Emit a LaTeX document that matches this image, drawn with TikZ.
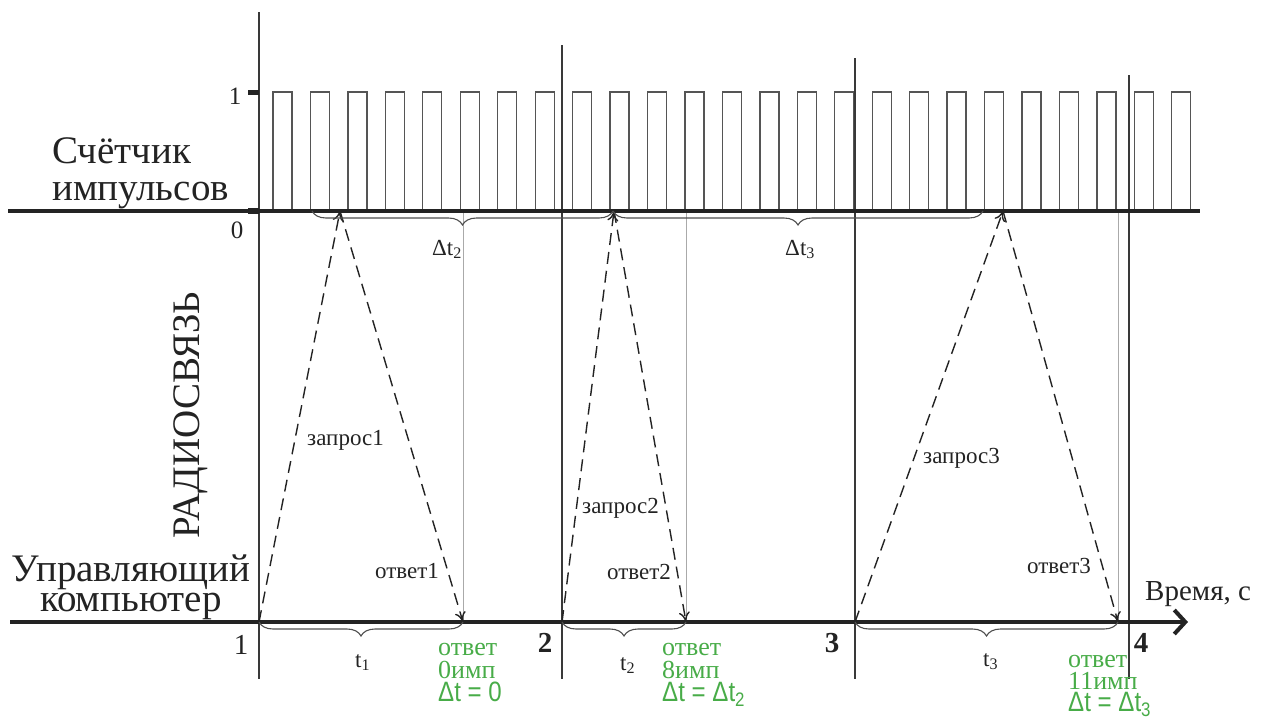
\documentclass[tikz,border=0pt]{standalone}
\usepackage{fontspec}
\setmainfont{Liberation Serif}
\newfontfamily\sansf{Liberation Sans}
\usetikzlibrary{arrows.meta,decorations.pathreplacing}
\definecolor{grn}{RGB}{72,172,72}
\definecolor{pulsegray}{RGB}{85,85,85}
\definecolor{lightg}{RGB}{170,170,170}
\definecolor{ink}{RGB}{35,35,35}
\newcommand{\nrw}[1]{\scalebox{0.86}[1]{#1}}
\newcommand{\dtl}[1]{{\sansf\fontsize{28}{28}\selectfont\nrw{#1}}}
% two lines, left aligned, fixed baseline gap
\newcommand{\twol}[3]{\vbox{\offinterlineskip\halign{##\hfil\cr\smash{#2}\cr\noalign{\kern#1}\smash{#3}\cr}}}
% two lines, centred
\newcommand{\twoc}[3]{\vbox{\offinterlineskip\halign{\hfil##\hfil\cr\smash{#2}\cr\noalign{\kern#1}\smash{#3}\cr}}}
% three lines, left aligned
\newcommand{\threel}[4]{\vbox{\offinterlineskip\halign{##\hfil\cr\smash{#2}\cr\noalign{\kern#1}\smash{#3}\cr\noalign{\kern#1}\smash{#4}\cr}}}
\begin{document}
\begin{tikzpicture}[x=1pt,y=-1pt,
  axis/.style={line width=4pt, ink},
  vline/.style={line width=1.8pt, ink!90},
  pulse/.style={line width=1.3pt, pulsegray},
  guide/.style={line width=1pt, lightg},
  sig/.style={dash pattern=on 12pt off 7pt, line width=1.4pt, ink, -{To[length=10pt,width=11pt]}},
  brc/.style={decorate, decoration={brace, amplitude=14pt, mirror}, line width=1.1pt, ink!80},
  big/.style={font=\fontsize{39}{39}\selectfont, text=ink, inner sep=0pt},
  lab/.style={font=\fontsize{23}{24}\selectfont, text=ink, inner sep=0pt, anchor=base west},
  gtxt/.style={font=\fontsize{26}{26}\selectfont, text=grn, inner sep=0pt, anchor=base west},
  num/.style={font=\fontsize{29}{29}\selectfont\bfseries, text=ink, inner sep=0pt},
]
\useasboundingbox (0,0) rectangle (1273,720);

% pulses
\foreach \k in {0,...,24} {
  \pgfmathsetmacro\xa{273+37.45*\k}
  \draw[pulse] (\xa,211) -- (\xa,92) -- (\xa+19,92) -- (\xa+19,211);
}

% guide lines (answer moments)
\coordinate (g1t) at (463,211); \coordinate (a1) at (463,622);
\coordinate (g2t) at (686,211); \coordinate (a2) at (686,622);
\coordinate (g3t) at (1118,211); \coordinate (a3) at (1118,622);
\draw[guide] (g1t) -- (a1);
\draw[guide] (g2t) -- (a2);
\draw[guide] (g3t) -- (a3);

% vertical second marks
\coordinate (v1t) at (259,12);  \coordinate (v1b) at (259,679);
\coordinate (v2t) at (562,45);  \coordinate (v2b) at (562,679);
\coordinate (v3t) at (855,58);  \coordinate (v3b) at (855,679);
\coordinate (v4t) at (1129,75); \coordinate (v4b) at (1129,679);
\draw[vline] (v1t) -- (v1b);
\draw[vline] (v2t) -- (v2b);
\draw[vline] (v3t) -- (v3b);
\draw[vline] (v4t) -- (v4b);

% axes
\coordinate (ta0) at (8,211); \coordinate (ta1) at (1200,211);
\draw[axis] (ta0) -- (ta1);
\coordinate (ba0) at (10,622); \coordinate (ba1) at (1188,622);
\draw[axis, -{Straight Barb[length=11pt,width=24pt]}] (ba0) -- (ba1);

% ticks on level axis
\coordinate (k1a) at (248,92); \coordinate (k1b) at (259,92);
\coordinate (k0a) at (248,211); \coordinate (k0b) at (259,211);
\draw[line width=5pt, ink] (k1a) -- (k1b);
\draw[line width=6pt, ink] (k0a) -- (k0b);

% signals
\coordinate (s1) at (259,622); \coordinate (r1) at (340,211);
\coordinate (s2) at (562,622); \coordinate (r2) at (614,211);
\coordinate (s3) at (855,622); \coordinate (r3) at (1003,211);
\draw[sig] (s1) -- (r1);
\draw[sig] (r1) -- (a1);
\draw[sig] (s2) -- (r2);
\draw[sig] (r2) -- (a2);
\draw[sig] (s3) -- (r3);
\draw[sig] (r3) -- (a3);

% braces top
\coordinate (b2a) at (312,211); \coordinate (b2b) at (613,211);
\coordinate (b3a) at (613,211); \coordinate (b3b) at (983,211);
\draw[brc] (b2a) -- (b2b);
\draw[brc] (b3a) -- (b3b);
% braces bottom
\draw[brc] (s1) -- (a1);
\draw[brc] (s2) -- (a2);
\draw[brc] (s3) -- (a3);

% left labels
\node[big, anchor=base west] (cnt) at (52,200) {\twol{37pt}{Счётчик}{импульсов}};
\node[big, anchor=base] (pc) at (131,611) {\twoc{30pt}{Управляющий}{компьютер}};
\node[big, rotate=90] (radio) at (191,415) {РАДИОСВЯЗЬ};

% level labels
\node[font=\fontsize{25}{25}\selectfont, text=ink, inner sep=0pt] (lv1) at (235,96) {1};
\node[font=\fontsize{25}{25}\selectfont, text=ink, inner sep=0pt] (lv0) at (237,230) {0};

% second labels
\node[font=\fontsize{29}{29}\selectfont, text=ink, inner sep=0pt] (n1) at (241,645) {1};
\node[num] (n2) at (545,643) {2};
\node[num] (n3) at (832,643) {3};
\node[num] (n4) at (1141,643) {4};
\node[font=\fontsize{29}{29}\selectfont, text=ink, inner sep=0pt, anchor=base west] (time) at (1145,600) {Время, с};

% brace labels
\node[lab] (dt2) at (432,255) {Δt\textsubscript{2}};
\node[lab] (dt3) at (785,255) {Δt\textsubscript{3}};
\node[lab] (t1) at (355,667) {t\textsubscript{1}};
\node[lab] (t2) at (620,670) {t\textsubscript{2}};
\node[lab] (t3) at (983,666) {t\textsubscript{3}};

% signal labels
\node[lab] (q1) at (307,445) {запрос1};
\node[lab] (o1) at (375,578) {ответ1};
\node[lab] (q2) at (582,513) {запрос2};
\node[lab] (o2) at (607,579) {ответ2};
\node[lab] (q3) at (923,463) {запрос3};
\node[lab] (o3) at (1027,573) {ответ3};

% green results
\node[gtxt] (res1) at (438,701) {\threel{23pt}{ответ}{0имп}{\dtl{Δt = 0}}};
\node[gtxt] (res2) at (662,701) {\threel{23pt}{ответ}{8имп}{\dtl{Δt = Δt\textsubscript{2}}}};
\node[gtxt] (res3) at (1068,711) {\threel{22pt}{ответ}{11имп}{\dtl{Δt = Δt\textsubscript{3}}}};
\end{tikzpicture}
\end{document}
